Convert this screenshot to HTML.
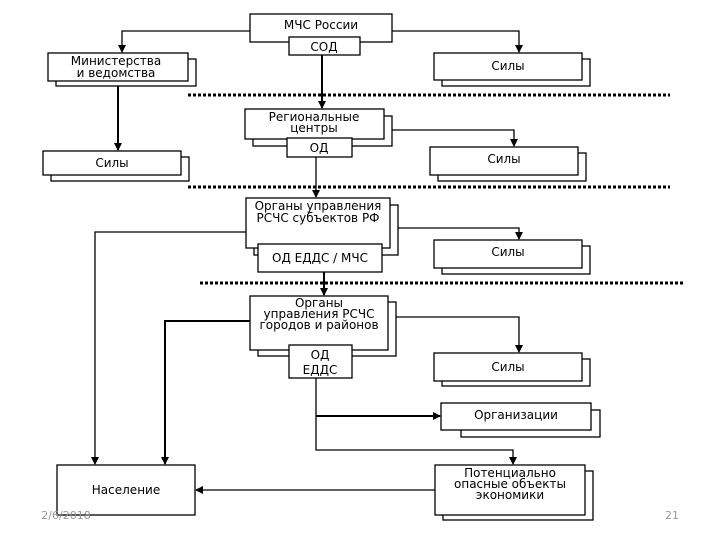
<!DOCTYPE html>
<html><head><meta charset="utf-8"><style>
body{margin:0;background:#fff;width:720px;height:540px;overflow:hidden}
svg text{font-family:"DejaVu Sans","Liberation Sans",sans-serif;font-size:12px;fill:#000;text-anchor:middle}
</style></head><body>
<svg width="720" height="540" viewBox="0 0 720 540" xmlns="http://www.w3.org/2000/svg">
<defs><marker id="a" markerWidth="8" markerHeight="8" refX="7" refY="4" orient="auto" markerUnits="userSpaceOnUse"><path d="M0,0 L8,4 L0,8 z" fill="#000"/></marker></defs>
<g fill="#fff" stroke="#000" stroke-width="1.3">
<!-- connectors -->
<polyline fill="none" points="250,31 122,31 122,52" marker-end="url(#a)"/>
<polyline fill="none" points="392,31 519,31 519,52" marker-end="url(#a)"/>
<line x1="322" y1="55" x2="322" y2="108" stroke-width="2" marker-end="url(#a)"/>
<line x1="118" y1="86" x2="118" y2="150" stroke-width="2" marker-end="url(#a)"/>
<polyline fill="none" points="392,130 514,130 514,146" marker-end="url(#a)"/>
<line x1="316" y1="157" x2="316" y2="197" marker-end="url(#a)"/>
<polyline fill="none" points="398,228 519,228 519,239" marker-end="url(#a)"/>
<polyline fill="none" points="246,232 95,232 95,464" marker-end="url(#a)"/>
<line x1="324" y1="272" x2="324" y2="295" stroke-width="2" marker-end="url(#a)"/>
<polyline fill="none" points="250,321 165,321 165,464" stroke-width="2" marker-end="url(#a)"/>
<polyline fill="none" points="396,317 519,317 519,352" marker-end="url(#a)"/>
<polyline fill="none" points="316,378 316,450 513,450 513,464" marker-end="url(#a)"/>
<line x1="316" y1="416" x2="440" y2="416" stroke-width="2" marker-end="url(#a)"/>
<line x1="435" y1="490" x2="196" y2="490" marker-end="url(#a)"/>
<!-- dotted -->
<line x1="188" y1="95" x2="670" y2="95" stroke-width="3" stroke-dasharray="3,2"/>
<line x1="188" y1="187" x2="670" y2="187" stroke-width="3" stroke-dasharray="3,2"/>
<line x1="200" y1="283" x2="685" y2="283" stroke-width="3" stroke-dasharray="3,2"/>
<!-- boxes -->
<rect x="250" y="14" width="142" height="28"/>
<rect x="289" y="37" width="71" height="18"/>
<rect x="56" y="59" width="140" height="27"/><rect x="48" y="53" width="140" height="28"/>
<rect x="442" y="59" width="148" height="27"/><rect x="434" y="53" width="148" height="27"/>
<rect x="253" y="116" width="139" height="30"/><rect x="245" y="109" width="139" height="30"/>
<rect x="287" y="138" width="65" height="19"/>
<rect x="51" y="157" width="138" height="24"/><rect x="43" y="151" width="138" height="24"/>
<rect x="438" y="153" width="148" height="28"/><rect x="430" y="147" width="148" height="28"/>
<rect x="254" y="205" width="144" height="50"/><rect x="246" y="198" width="144" height="50"/>
<rect x="258" y="244" width="124" height="28"/>
<rect x="442" y="246" width="148" height="28"/><rect x="434" y="240" width="148" height="28"/>
<rect x="258" y="302" width="138" height="54"/><rect x="250" y="296" width="138" height="54"/>
<rect x="289" y="345" width="63" height="33"/>
<rect x="442" y="359" width="148" height="27"/><rect x="434" y="353" width="148" height="28"/>
<rect x="461" y="410" width="139" height="27"/><rect x="441" y="403" width="150" height="27"/>
<rect x="443" y="471" width="150" height="49"/><rect x="435" y="465" width="150" height="50"/>
<rect x="57" y="465" width="138" height="50"/>
</g>
<text x="321" y="29">МЧС России</text>
<text x="324" y="51">СОД</text>
<text x="116" y="65">Министерства</text><text x="116" y="77">и ведомства</text>
<text x="508" y="70">Силы</text>
<text x="314" y="121">Региональные</text><text x="314" y="132">центры</text>
<text x="319" y="152">ОД</text>
<text x="112" y="167">Силы</text>
<text x="504" y="163">Силы</text>
<text x="318" y="210">Органы управления</text><text x="318" y="222">РСЧС субъектов РФ</text>
<text x="320" y="262">ОД ЕДДС / МЧС</text>
<text x="508" y="256">Силы</text>
<text x="319" y="307">Органы</text><text x="319" y="318">управления РСЧС</text><text x="319" y="329">городов и районов</text>
<text x="320" y="359">ОД</text><text x="320" y="374">ЕДДС</text>
<text x="508" y="371">Силы</text>
<text x="516" y="419">Организации</text>
<text x="510" y="477">Потенциально</text><text x="510" y="488">опасные объекты</text><text x="510" y="499">экономики</text>
<text x="126" y="494">Население</text>
<text x="66" y="519" style="fill:#999;font-size:11px">2/6/2018</text>
<text x="672" y="519" style="fill:#999;font-size:11px">21</text>
</svg>
</body></html>
